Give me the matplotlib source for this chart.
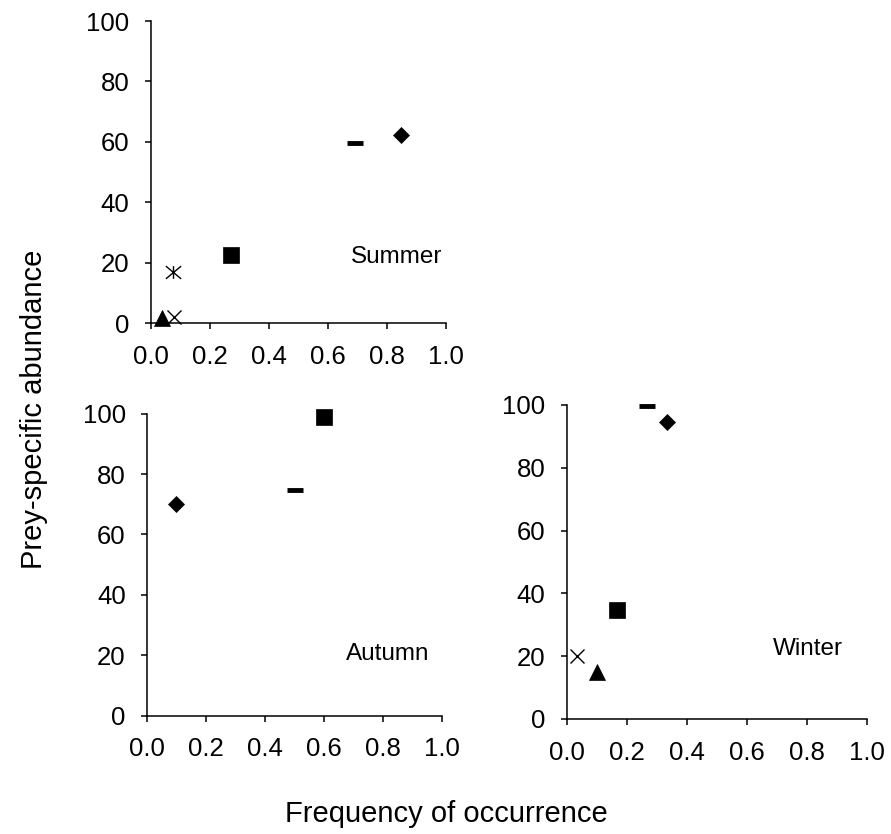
import matplotlib
matplotlib.use('Agg')
import matplotlib.pyplot as plt
from matplotlib.path import Path

plt.rcParams['font.family'] = ['Liberation Sans', 'DejaVu Sans']

# prey groups, one marker per group
groups = ['diamond', 'dash', 'square', 'star', 'cross', 'triangle']

summer_freq = [0.846, 0.69, 0.27, 0.076, 0.078, 0.036]
summer_abund = [62.3, 59.5, 22.5, 17.0, 2.1, 1.5]

autumn_freq = [0.096, 0.50, 0.60]
autumn_abund = [70.0, 74.6, 99.0]
autumn_groups = ['diamond', 'dash', 'square']

winter_freq = [0.334, 0.266, 0.168, 0.032, 0.10]
winter_abund = [94.5, 99.7, 34.7, 20.0, 15.0]
winter_groups = ['diamond', 'dash', 'square', 'cross', 'triangle']

x_ticks = [0.0, 0.2, 0.4, 0.6, 0.8, 1.0]
y_ticks = [0, 20, 40, 60, 80, 100]

# asterisk-like star: an x with a vertical stroke
star_path = Path([(-1.2, -1), (1.2, 1), (-1.2, 1), (1.2, -1), (0, -1), (0, 1)],
                 [Path.MOVETO, Path.LINETO, Path.MOVETO, Path.LINETO,
                  Path.MOVETO, Path.LINETO])

styles = {
    'diamond': dict(marker='D', ms=8.0, mfc='black', mec='black', mew=0.5),
    'dash': dict(marker='_', ms=12, mec='black', mew=3.5),
    'square': dict(marker='s', ms=11.5, mfc='black', mec='black', mew=0.5),
    'star': dict(marker=star_path, ms=11, mec='black', mfc='none', mew=1.0),
    'cross': dict(marker='x', ms=10.5, mec='black', mew=1.0),
    'triangle': dict(marker='^', ms=12, mfc='black', mec='black', mew=0.5),
}


def panel(ax, freq, abund, names, label, lx, ly):
    for f, a, n in zip(freq, abund, names):
        ax.plot([f], [a], linestyle='none', clip_on=False, zorder=3, **styles[n])
    ax.set_xlim(0, 1)
    ax.set_ylim(0, 100)
    ax.set_xticks(x_ticks)
    ax.set_xticklabels([f'{v:.1f}' for v in x_ticks])
    ax.set_yticks(y_ticks)
    for s in ('top', 'right'):
        ax.spines[s].set_visible(False)
    for s in ('left', 'bottom'):
        ax.spines[s].set_linewidth(1.1)
    ax.tick_params(direction='out', length=4.5, width=1.1, labelsize=18.5)
    ax.tick_params(axis='y', pad=11)
    ax.tick_params(axis='x', pad=11)
    ax.text(lx, ly, label, fontsize=17.5, ha='center', va='center')


fig = plt.figure(figsize=(8.91, 8.34), dpi=100)
ax_s = fig.add_axes([0.1695, 0.6127, 0.3311, 0.3621])
ax_a = fig.add_axes([0.1653, 0.1418, 0.3311, 0.3622])
ax_w = fig.add_axes([0.6364, 0.1379, 0.3364, 0.3765])

panel(ax_s, summer_freq, summer_abund, groups, 'Summer', 0.833, 22)
panel(ax_a, autumn_freq, autumn_abund, autumn_groups, 'Autumn', 0.816, 20.4)
panel(ax_w, winter_freq, winter_abund, winter_groups, 'Winter', 0.804, 22.3)

fig.text(0.0376, 0.5096, 'Prey-specific abundance', rotation=90,
         ha='center', va='center', fontsize=21)
fig.text(0.5006, 0.0144, 'Frequency of occurrence', ha='center',
         va='baseline', fontsize=21)

fig.savefig('out.png', dpi=100)
